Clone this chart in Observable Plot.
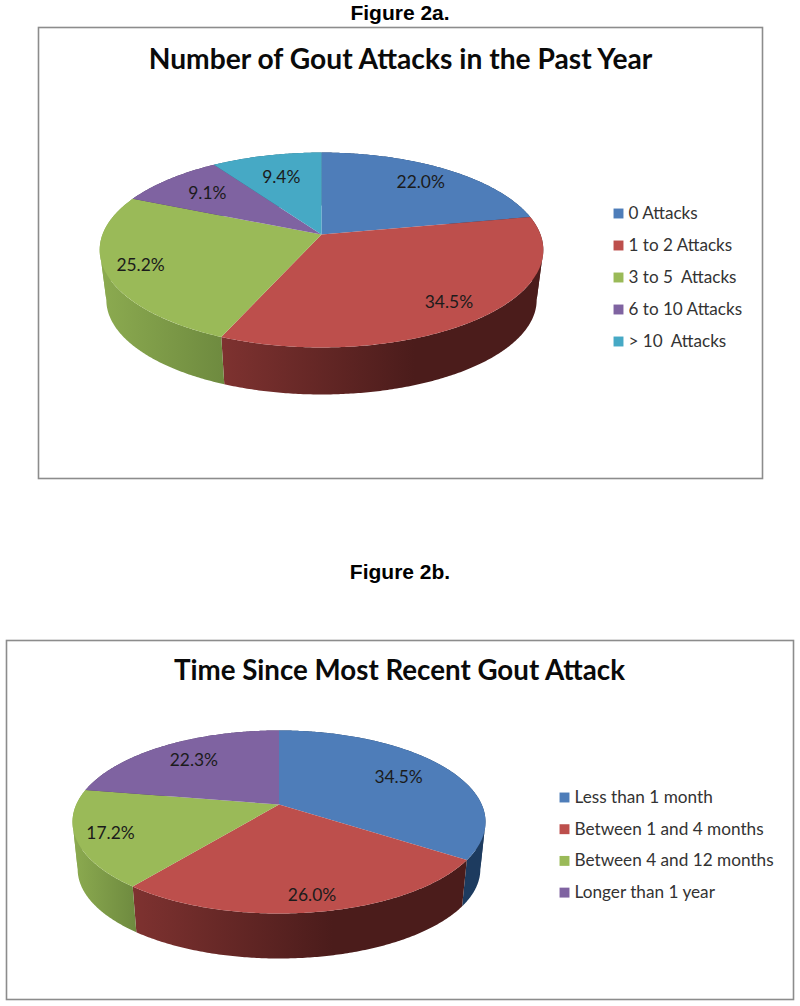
<!DOCTYPE html>
<html>
<head>
<meta charset="utf-8">
<script src="https://cdn.jsdelivr.net/npm/d3@7"></script>
<script src="https://cdn.jsdelivr.net/npm/@observablehq/plot@0.6"></script>
<style>
  html, body { margin: 0; padding: 0; background: #fff; }
  #page { width: 800px; height: 1006px; position: relative; overflow: hidden; }
  .fig { font: bold 21px "Liberation Sans", Arial, sans-serif; color: #000; text-align: center; position: absolute; left: 0; width: 800px; }
  svg { display: block; position: absolute; left: 0; overflow: visible; }
</style>
</head>
<body>
<div id="page"></div>
<script>
// ---- data ----
const attackCategories = ["0 Attacks", "1 to 2 Attacks", "3 to 5  Attacks", "6 to 10 Attacks", "> 10  Attacks"];
const attackValues = [22.0, 34.5, 25.2, 9.1, 9.4];
const attackTitle = "Number of Gout Attacks in the Past Year";

const recencyCategories = ["Less than 1 month", "Between 1 and 4 months", "Between 4 and 12 months", "Longer than 1 year"];
const recencyValues = [34.5, 26.0, 17.2, 22.3];
const recencyTitle = "Time Since Most Recent Gout Attack";

// ---- styling and layout ----
const sliceColors = ["#4e7db9", "#bd4f4c", "#9aba58", "#7f63a1", "#46a9c5"];
const wallGradients = [["#1d3b5f", "#1d3b5f", 1], ["#7e3230", "#4b1c1b", 0.6], ["#8cab50", "#6e8a3f", 1], ["#4c3a63", "#4c3a63", 1], ["#2a6a7c", "#2a6a7c", 1]];
const textFont = "Lato, 'Open Sans', sans-serif";

const layoutA = {
  id: "a", top: 26, height: 453, left: 38, right: 762,
  cx: 321, cy: 234, a: 219, b: 95, k: 0.159, depth: 50.4, shrink: 0.97,
  titleX: 400, titleY: 59, titleSize: 28.2,
  legendSwatchX: 618, legendTextX: 628, legendY0: 213, legendStep: 32, legendSize: 17.1,
  labelFraction: [0.78, 0.83, 0.845, 0.73, 0.70], labelSize: 17.4
};
const layoutB = {
  id: "b", top: 639, height: 361, left: 6, right: 793,
  cx: 278.5, cy: 804, a: 202.7, b: 88.2, k: 0.191, depth: 47.7, shrink: 0.975,
  titleX: 399, titleY: 671, titleSize: 27.7,
  legendSwatchX: 564, legendTextX: 574, legendY0: 797, legendStep: 31.7, legendSize: 17.2,
  labelFraction: [0.71, 0.87, 0.84, 0.72], labelSize: 17.4
};

// Perspective projection of a point on the unit disc (fraction f of the radius, clockwise angle t from the top).
function project(L, t, f = 1, lower = false) {
  const u = f * Math.sin(t), v = -f * Math.cos(t), w = 1 - L.k * v;
  const s = lower ? L.shrink : 1, dz = lower ? L.depth : 0;
  return {x: L.cx + s * L.a * u / w, y: L.cy + dz + s * L.b * v / w};
}

function drawPie(categories, values, title, L) {
  const total = d3.sum(values);
  const cum = d3.cumsum(values);
  const angles = values.map((v, i) => [(cum[i] - v) / total * 2 * Math.PI, cum[i] / total * 2 * Math.PI]);
  const arcAngles = ([t0, t1]) => {
    const n = Math.max(2, Math.ceil((t1 - t0) / 0.01));
    return d3.range(n + 1).map((j) => t0 + (t1 - t0) * j / n);
  };
  const faces = categories.flatMap((c, i) => [
    {category: c, ...project(L, 0, 0)},
    ...arcAngles(angles[i]).map((t) => ({category: c, ...project(L, t)}))
  ]);
  // The wall of a slice is cut where the rim turns back on itself (its left and right extremes),
  // so that each band keeps the straight silhouette edge between top and bottom rim.
  const extreme = Math.acos(-L.k);
  const cuts = [extreme, 2 * Math.PI - extreme];
  const walls = categories.map((c, i) => {
    const [t0, t1] = angles[i];
    const stops = [t0, ...cuts.filter((t) => t > t0 && t < t1), t1];
    const bands = d3.pairs(stops).map((pair) => {
      const arc = arcAngles(pair);
      return [...arc.map((t) => project(L, t)), ...arc.slice().reverse().map((t) => project(L, t, 1, true))];
    });
    const xs = bands.flat().map((p) => p.x);
    return {bands, x0: d3.min(xs), x1: d3.max(xs)};
  });
  const labels = categories.map((c, i) => ({
    text: values[i].toFixed(1) + "%",
    ...project(L, (angles[i][0] + angles[i][1]) / 2, L.labelFraction[i])
  }));
  const legend = categories.map((c, i) => ({category: c, y: L.legendY0 + i * L.legendStep}));
  const gradientDefs = () => {
    const defs = document.createElementNS("http://www.w3.org/2000/svg", "defs");
    defs.innerHTML = walls.map(({x0, x1}, i) => {
      const [a, b, end] = wallGradients[i];
      return `<linearGradient id="wall-${L.id}-${i}" gradientUnits="userSpaceOnUse" x1="${x0}" x2="${x1}" y1="0" y2="0"><stop offset="0" stop-color="${a}"/><stop offset="${end}" stop-color="${b}"/></linearGradient>`;
    }).join("");
    return defs;
  };
  const plot = Plot.plot({
    width: 800,
    height: L.height,
    marginLeft: L.left,
    marginRight: 800 - L.right,
    marginTop: 1,
    marginBottom: 1,
    x: {domain: [L.left, L.right], axis: null},
    y: {domain: [L.top + L.height - 1, L.top + 1], axis: null},
    color: {domain: categories, range: sliceColors},
    style: {background: "transparent"},
    marks: [
      gradientDefs,
      Plot.frame({stroke: "#8c8c8c", strokeWidth: 1.6}),
      ...walls.flatMap((w, i) => w.bands.map((band) => Plot.line(band, {x: "x", y: "y", fill: `url(#wall-${L.id}-${i})`, stroke: "none"}))),
      Plot.line(faces, {x: "x", y: "y", z: "category", fill: "category", stroke: "none"}),
      Plot.text(labels, {x: "x", y: "y", text: "text", fontFamily: textFont, fontSize: L.labelSize, fill: "#1b1b1b"}),
      Plot.text([title], {x: L.titleX, y: L.titleY, text: (d) => d, fontFamily: textFont, fontWeight: "bold", fontSize: L.titleSize, fill: "#0a0a0a"}),
      Plot.dot(legend, {x: L.legendSwatchX, y: "y", symbol: "square", r: 5.6, fill: "category", stroke: "none"}),
      Plot.text(legend, {x: L.legendTextX, y: "y", text: "category", textAnchor: "start", fontFamily: textFont, fontSize: L.legendSize, fill: "#333333", style: {whiteSpace: "pre"}})
    ]
  });
  plot.style.top = L.top + "px";
  plot.querySelectorAll("text").forEach((t) => t.setAttribute("xml:space", "preserve"));
  return plot;
}

const page = document.getElementById("page");
const heading = (text, top) => {
  const d = document.createElement("div");
  d.className = "fig"; d.textContent = text; d.style.top = top + "px";
  page.appendChild(d);
};
heading("Figure 2a.", 1);
page.appendChild(drawPie(attackCategories, attackValues, attackTitle, layoutA));
heading("Figure 2b.", 560);
page.appendChild(drawPie(recencyCategories, recencyValues, recencyTitle, layoutB));
</script>
</body>
</html>
